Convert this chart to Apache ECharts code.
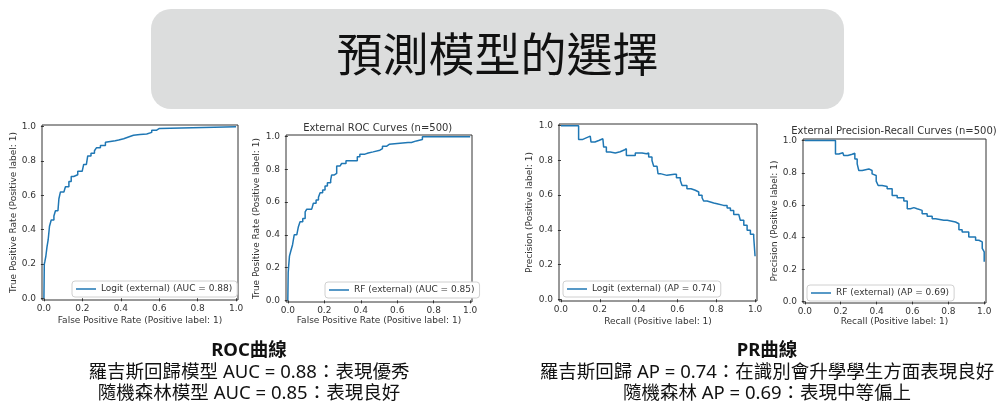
<!DOCTYPE html>
<html>
<head>
<meta charset="utf-8">
<script src="https://cdn.jsdelivr.net/npm/echarts@6/dist/echarts.min.js"></script>
<style>
    html, body { margin: 0; padding: 0; background: #fff; }
    #slide { width: 996px; height: 403px; }
</style>
</head>
<body>
<div id="slide"></div>
<script>
    // axis ticks shared by all four panels
    const tickValues = [0, 0.2, 0.4, 0.6, 0.8, 1.0]

    // ROC: [false positive rate, true positive rate]
    const logitRoc = [
        [0, 0], [0.002, 0.2], [0.005, 0.215], [0.01, 0.245], [0.016, 0.30], [0.022, 0.34],
        [0.029, 0.42], [0.038, 0.456], [0.052, 0.48], [0.06, 0.51], [0.073, 0.52], [0.078, 0.58],
        [0.086, 0.62], [0.104, 0.63], [0.112, 0.65], [0.13, 0.68], [0.142, 0.71], [0.155, 0.72],
        [0.176, 0.74], [0.199, 0.745], [0.207, 0.78], [0.221, 0.79], [0.228, 0.83], [0.245, 0.845],
        [0.263, 0.86], [0.273, 0.877], [0.294, 0.89], [0.32, 0.91], [0.328, 0.918], [0.371, 0.922],
        [0.389, 0.93], [0.415, 0.94], [0.44, 0.95], [0.466, 0.954], [0.5, 0.958], [0.535, 0.967],
        [0.561, 0.98], [0.587, 0.99], [0.601, 1.0], [1.0, 1.0]
    ]
    const rfRoc = [
        [0, 0], [0.002, 0.17], [0.004, 0.2], [0.009, 0.27], [0.016, 0.30], [0.026, 0.34],
        [0.035, 0.40], [0.049, 0.41], [0.058, 0.45], [0.067, 0.48], [0.082, 0.50], [0.095, 0.54],
        [0.104, 0.557], [0.131, 0.563], [0.14, 0.593], [0.155, 0.613], [0.168, 0.63], [0.177, 0.658],
        [0.191, 0.674], [0.204, 0.698], [0.217, 0.719], [0.235, 0.735], [0.24, 0.765], [0.253, 0.775],
        [0.268, 0.82], [0.286, 0.826], [0.295, 0.836], [0.319, 0.852], [0.368, 0.852], [0.381, 0.877],
        [0.395, 0.893], [0.423, 0.9], [0.441, 0.907], [0.468, 0.917], [0.505, 0.927], [0.519, 0.941],
        [0.541, 0.953], [0.556, 0.964], [0.659, 0.964], [0.678, 0.974], [0.705, 0.982], [0.738, 1.0],
        [1.0, 1.0]
    ]

    // PR: [recall, precision]
    const logitPr = [
        [0, 1], [0.091, 0.92], [0.11, 0.93], [0.13, 0.94], [0.151, 0.95], [0.155, 0.906],
        [0.175, 0.915], [0.195, 0.925], [0.216, 0.935], [0.22, 0.877], [0.234, 0.848], [0.254, 0.843],
        [0.28, 0.85], [0.305, 0.86], [0.326, 0.868], [0.337, 0.829], [0.383, 0.843], [0.418, 0.839],
        [0.44, 0.843], [0.452, 0.82], [0.469, 0.80], [0.478, 0.766], [0.495, 0.766], [0.5, 0.724],
        [0.512, 0.714], [0.546, 0.72], [0.584, 0.72], [0.595, 0.70], [0.615, 0.685], [0.624, 0.656],
        [0.649, 0.637], [0.67, 0.628], [0.692, 0.618], [0.71, 0.599], [0.727, 0.585], [0.735, 0.566],
        [0.753, 0.555], [0.787, 0.551], [0.804, 0.541], [0.838, 0.541], [0.856, 0.526], [0.873, 0.512],
        [0.89, 0.489], [0.916, 0.478], [0.924, 0.455], [0.942, 0.426], [0.959, 0.397], [0.976, 0.374],
        [0.993, 0.359], [1.0, 0.35], [1.0, 0.248]
    ]
    const rfPr = [
        [0, 1], [0.171, 0.917], [0.19, 0.925], [0.212, 0.934], [0.217, 0.907], [0.24, 0.915],
        [0.264, 0.921], [0.279, 0.886], [0.292, 0.855], [0.301, 0.814], [0.32, 0.824], [0.357, 0.814],
        [0.375, 0.793], [0.385, 0.783], [0.398, 0.748], [0.409, 0.721], [0.431, 0.715], [0.459, 0.70],
        [0.487, 0.659], [0.515, 0.645], [0.552, 0.624], [0.571, 0.576], [0.589, 0.583], [0.608, 0.576],
        [0.626, 0.566], [0.654, 0.545], [0.682, 0.529], [0.71, 0.514], [0.729, 0.504], [0.775, 0.504],
        [0.794, 0.494], [0.84, 0.483], [0.859, 0.446], [0.877, 0.432], [0.914, 0.401], [0.952, 0.38],
        [0.97, 0.37], [0.989, 0.329], [1.0, 0.308], [1.0, 0.246]
    ]

    const seriesNames = [
        'Logit (external) (AUC = 0.88)',
        'RF (external) (AUC = 0.85)',
        'Logit (external) (AP = 0.74)',
        'RF (external) (AP = 0.69)'
    ]
    const rocCaption = ['ROC曲線', '羅吉斯回歸模型 AUC = 0.88：表現優秀', '隨機森林模型 AUC = 0.85：表現良好']
    const prCaption = ['PR曲線', '羅吉斯回歸 AP = 0.74：在識別會升學學生方面表現良好', '隨機森林 AP = 0.69：表現中等偏上']

    const mplFont = 'DejaVu Sans'
    const cjkFont = '"Noto Sans CJK TC", "Noto Sans CJK SC", sans-serif'
    const captionFont = '"Noto Sans", "Noto Sans CJK TC", sans-serif'
    const lineColor = '#1f77b4'

    function makeAxis(gridIndex, name, nameGap, labelMargin) {
        return {
            type: 'value',
            gridIndex: gridIndex,
            min: -0.01,
            max: 1.01,
            name: name,
            nameLocation: 'middle',
            nameGap: nameGap,
            nameTextStyle: { fontFamily: mplFont, fontSize: 9, color: '#333' },
            axisLine: { show: false },
            axisTick: {
                show: true,
                customValues: tickValues,
                length: 3,
                lineStyle: { color: '#333', width: 1 }
            },
            axisLabel: {
                customValues: tickValues,
                formatter: v => v.toFixed(1),
                fontFamily: mplFont,
                fontSize: 9,
                color: '#333',
                margin: labelMargin
            },
            splitLine: { show: false }
        }
    }

    function makeLegend(name, left, top) {
        return {
            data: [name],
            left: left,
            top: top,
            icon: 'rect',
            itemWidth: 20,
            itemHeight: 1.5,
            padding: [3, 5, 3, 4],
            borderColor: '#d0d0d0',
            borderWidth: 1,
            borderRadius: 3,
            backgroundColor: '#fff',
            textStyle: { fontFamily: mplFont, fontSize: 9, color: '#333', lineHeight: 10 }
        }
    }

    function makeSeries(name, idx, data) {
        return {
            name: name,
            type: 'line',
            xAxisIndex: idx,
            yAxisIndex: idx,
            step: 'end',
            symbol: 'none',
            lineStyle: { color: lineColor, width: 1.5 },
            itemStyle: { color: lineColor },
            data: data
        }
    }

    function captionText(x, y, text, bold) {
        return {
            type: 'text',
            x: x,
            y: y,
            style: {
                text: text,
                fontFamily: captionFont,
                fontSize: 18.5,
                fontWeight: bold ? 'bold' : 'normal',
                fill: '#111',
                textAlign: 'center',
                textVerticalAlign: 'middle'
            }
        }
    }

    const chart = echarts.init(document.getElementById('slide'))

    chart.setOption({
        animation: false,
        backgroundColor: '#fff',
        grid: [
            { left: 42, top: 125, width: 196, height: 175 },
            { left: 286, top: 135, width: 186, height: 167 },
            { left: 559, top: 124, width: 198, height: 177 },
            { left: 803, top: 139, width: 183, height: 164 }
        ].map(g => Object.assign({ show: true, borderColor: '#333', borderWidth: 1, backgroundColor: 'transparent' }, g)),
        xAxis: [
            makeAxis(0, 'False Positive Rate (Positive label: 1)', 16, 4),
            makeAxis(1, 'False Positive Rate (Positive label: 1)', 14, 4),
            makeAxis(2, 'Recall (Positive label: 1)', 16, 4),
            makeAxis(3, 'Recall (Positive label: 1)', 13.5, 4)
        ],
        yAxis: [
            makeAxis(0, 'True Positive Rate (Positive label: 1)', 24, 6),
            makeAxis(1, 'True Positive Rate (Positive label: 1)', 25, 6),
            makeAxis(2, 'Precision (Positive label: 1)', 24.5, 6),
            makeAxis(3, 'Precision (Positive label: 1)', 23, 6)
        ],
        legend: [
            makeLegend(seriesNames[0], 72, 281),
            makeLegend(seriesNames[1], 325, 282),
            makeLegend(seriesNames[2], 563, 281),
            makeLegend(seriesNames[3], 807, 285)
        ],
        series: [
            makeSeries(seriesNames[0], 0, logitRoc),
            makeSeries(seriesNames[1], 1, rfRoc),
            makeSeries(seriesNames[2], 2, logitPr),
            makeSeries(seriesNames[3], 3, rfPr)
        ],
        graphic: [
            {
                type: 'rect',
                shape: { x: 151, y: 9, width: 693, height: 100, r: 20 },
                style: { fill: '#dcdddd' }
            },
            {
                type: 'text',
                x: 497.5,
                y: 54,
                style: {
                    text: '預測模型的選擇',
                    fontFamily: cjkFont,
                    fontSize: 46,
                    fill: '#111',
                    textAlign: 'center',
                    textVerticalAlign: 'middle'
                }
            },
            {
                type: 'text',
                x: 377.7,
                y: 128.3,
                style: {
                    text: 'External ROC Curves (n=500)',
                    fontFamily: mplFont, fontSize: 10, fill: '#333',
                    textAlign: 'center', textVerticalAlign: 'middle'
                }
            },
            {
                type: 'text',
                x: 894,
                y: 131.3,
                style: {
                    text: 'External Precision-Recall Curves (n=500)',
                    fontFamily: mplFont, fontSize: 10, fill: '#333',
                    textAlign: 'center', textVerticalAlign: 'middle'
                }
            },
            captionText(249, 350.7, rocCaption[0], true),
            captionText(249, 372.7, rocCaption[1], false),
            captionText(249, 393.3, rocCaption[2], false),
            captionText(767, 350.7, prCaption[0], true),
            captionText(767, 372.7, prCaption[1], false),
            captionText(767, 393.3, prCaption[2], false)
        ]
    })

    window.addEventListener('resize', () => {
        chart.resize()
    })
</script>
</body>
</html>
